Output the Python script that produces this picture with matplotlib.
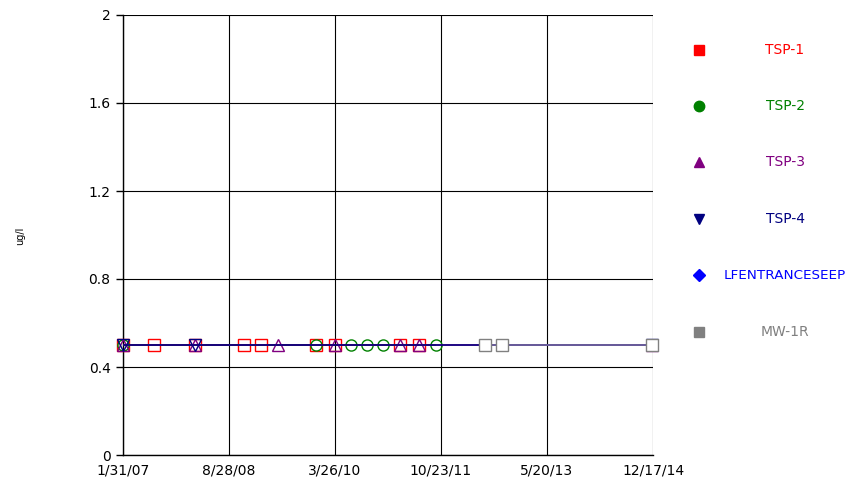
import matplotlib
matplotlib.use("Agg")
import matplotlib.pyplot as plt
from matplotlib.lines import Line2D
import datetime as dt

plt.rcParams['font.family'] = ['DejaVu Sans']

def d(s):
    return dt.datetime.strptime(s, "%Y-%m-%d")

series_names = ["TSP-1", "TSP-2", "TSP-3", "TSP-4", "LFENTRANCESEEP", "MW-1R"]
series_colors = ["#FF0000", "#008000", "#800080", "#000080", "#0000FF", "#808080"]
series_markers = ["s", "o", "^", "v", "D", "s"]

tsp1_dates = ["2007-01-31", "2007-07-19", "2008-02-25", "2008-11-17", "2009-02-17",
              "2009-12-13", "2010-03-26", "2011-03-17", "2011-06-26"]
tsp1_vals = [0.5, 0.5, 0.5, 0.5, 0.5, 0.5, 0.5, 0.5, 0.5]
tsp2_dates = ["2007-01-31", "2009-12-13", "2010-06-19", "2010-09-14", "2010-12-10", "2011-09-25"]
tsp2_vals = [0.5, 0.5, 0.5, 0.5, 0.5, 0.5]
tsp3_dates = ["2007-01-31", "2008-02-25", "2009-05-19", "2010-03-26", "2011-03-17",
              "2011-06-26", "2014-12-13"]
tsp3_vals = [0.5, 0.5, 0.5, 0.5, 0.5, 0.5, 0.5]
tsp4_dates = ["2007-01-31", "2008-02-25", "2014-12-13"]
tsp4_vals = [0.5, 0.5, 0.5]
lfe_dates = []
lfe_vals = []
mw1r_dates = ["2012-06-18", "2012-09-19", "2014-12-13"]
mw1r_vals = [0.5, 0.5, 0.5]

all_dates = [tsp1_dates, tsp2_dates, tsp3_dates, tsp4_dates, lfe_dates, mw1r_dates]
all_vals = [tsp1_vals, tsp2_vals, tsp3_vals, tsp4_vals, lfe_vals, mw1r_vals]
line_colors = ["#FF0000", "#008000", "#800080", "#000080", "#0000FF", "#7d74a0"]

x_tick_dates = ["2007-01-31", "2008-08-28", "2010-03-26", "2011-10-23", "2013-05-20", "2014-12-17"]
x_tick_labels = ["1/31/07", "8/28/08", "3/26/10", "10/23/11", "5/20/13", "12/17/14"]
y_ticks = [0, 0.4, 0.8, 1.2, 1.6, 2]
y_tick_labels = ["0", "0.4", "0.8", "1.2", "1.6", "2"]

W, H = 851, 486
fig = plt.figure(figsize=(W / 100, H / 100), dpi=100)
ax = fig.add_axes([123 / W, 1 - 455 / H, (653 - 123) / W, (455 - 15) / H])

for i, (ds, vs) in enumerate(zip(all_dates, all_vals)):
    if not ds:
        continue
    xs = [d(s) for s in ds]
    ax.plot(xs, vs, color=line_colors[i], lw=1.1, zorder=3 + i * 2, solid_capstyle='butt')
    ax.plot(xs, vs, linestyle='none', marker=series_markers[i], markersize=8,
            markerfacecolor='white' if i == 5 else 'none',
            markeredgecolor=series_colors[i], markeredgewidth=1.0,
            zorder=4 + i * 2, clip_on=False)

ax.set_xlim(d(x_tick_dates[0]), d(x_tick_dates[-1]))
ax.set_ylim(0, 2)
ax.set_xticks([d(s) for s in x_tick_dates])
ax.set_xticklabels(x_tick_labels, fontsize=10)
ax.set_yticks(y_ticks)
ax.set_yticklabels(y_tick_labels, fontsize=10)
ax.grid(True, color='black', lw=0.8)
ax.set_axisbelow(True)
for s in ['top', 'right']:
    ax.spines[s].set_visible(False)
for s in ['left', 'bottom']:
    ax.spines[s].set_color('black')
    ax.spines[s].set_linewidth(1.0)
ax.tick_params(axis='y', direction='out', length=5, width=1, pad=4)
ax.tick_params(axis='x', direction='out', length=0, pad=6)

fig.text(20 / W, 1 - 236 / H, "ug/l", rotation=90, fontsize=7, ha='center', va='center')

legend_y = [50, 106, 162, 219, 275, 332]
for i, name in enumerate(series_names):
    yf = 1 - legend_y[i] / H
    fig.add_artist(Line2D([699 / W], [yf], transform=fig.transFigure, linestyle='none',
                          marker=series_markers[i], markersize=7.5 if series_markers[i] != 'D' else 6,
                          markerfacecolor=series_colors[i], markeredgecolor=series_colors[i]))
    fig.text(785 / W, yf, name, color=series_colors[i], fontsize=10 if i != 4 else 9.7,
             ha='center', va='center')

fig.savefig("out.png", dpi=100)
